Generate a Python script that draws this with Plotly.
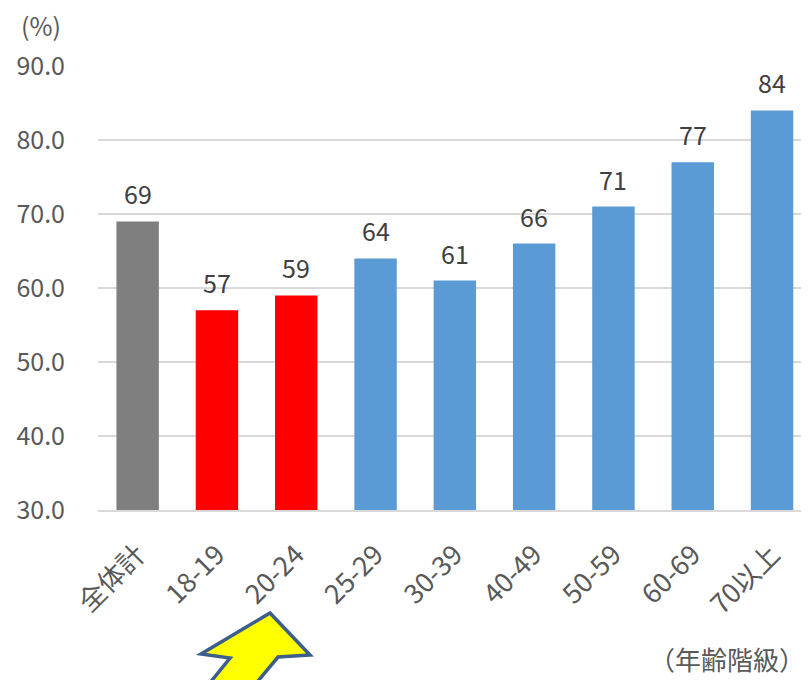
import plotly.graph_objects as go

categories = ["全体計", "18-19", "20-24", "25-29", "30-39", "40-49", "50-59", "60-69", "70以上"]
values = [69, 57, 59, 64, 61, 66, 71, 77, 84]
bar_colors = ["#7F7F7F", "#FF0000", "#FF0000", "#5B9BD5", "#5B9BD5", "#5B9BD5", "#5B9BD5", "#5B9BD5", "#5B9BD5"]
y_ticks = [30, 40, 50, 60, 70, 80, 90]
y_tick_labels = ["30.0", "40.0", "50.0", "60.0", "70.0", "80.0", "90.0"]

FONT = "Noto Sans CJK JP"

fig = go.Figure()
fig.add_trace(go.Bar(
    x=categories, y=values, marker=dict(color=bar_colors, line=dict(width=0)),
    width=0.535,
))

for c, v in zip(categories, values):
    fig.add_annotation(x=c, y=v, text=str(v), showarrow=False, yanchor="middle",
                       yshift=28, font=dict(family=FONT, size=25, color="#404040"))

# page has an 8px body margin; plot area on screen: x 98..809, y 66..510
def px(x, y):
    return (x - 98) / 711, (510 - y) / 444

pts = [(270, 613), (310, 655), (278, 657), (238, 705), (192, 705), (230, 658), (201, 654)]
path = "M " + " L ".join(f"{px(a,b)[0]:.4f},{px(a,b)[1]:.4f}" for a, b in pts) + " Z"
fig.add_shape(type="path", path=path, xref="paper", yref="paper",
              fillcolor="#FFFF00", line=dict(color="#3B5E8C", width=3.5), layer="above")

fig.add_annotation(xref="paper", yref="paper", x=px(19, 0)[0], y=px(0, 25)[1],
                   xanchor="left", yanchor="middle", text="(%)", showarrow=False,
                   font=dict(family=FONT, size=25, color="#595959"))
fig.add_annotation(xref="paper", yref="paper", x=1.0, y=px(0, 658)[1], xshift=-2,
                   xanchor="right", yanchor="middle", text="（年齢階級）", showarrow=False,
                   font=dict(family=FONT, size=26, color="#595959"))

fig.update_layout(
    width=801, height=672,
    margin=dict(l=90, r=0, t=58, b=170),
    plot_bgcolor="white", paper_bgcolor="white",
    showlegend=False,
    font=dict(family=FONT, size=25, color="#595959"),
    xaxis=dict(range=[-0.5, 8.466], tickangle=-45, showgrid=False,
               showline=True, linecolor="#D9D9D9", linewidth=2, ticks="",
               ticklabelstandoff=16,
               tickfont=dict(family=FONT, size=27, color="#595959")),
    yaxis=dict(range=[30, 90], tickvals=y_ticks, ticktext=y_tick_labels,
               showgrid=True, gridcolor="#D9D9D9", gridwidth=1.5, zeroline=False,
               ticks="", ticklabelstandoff=32,
               tickfont=dict(family=FONT, size=25, color="#595959")),
)

fig.write_html("out.html")
